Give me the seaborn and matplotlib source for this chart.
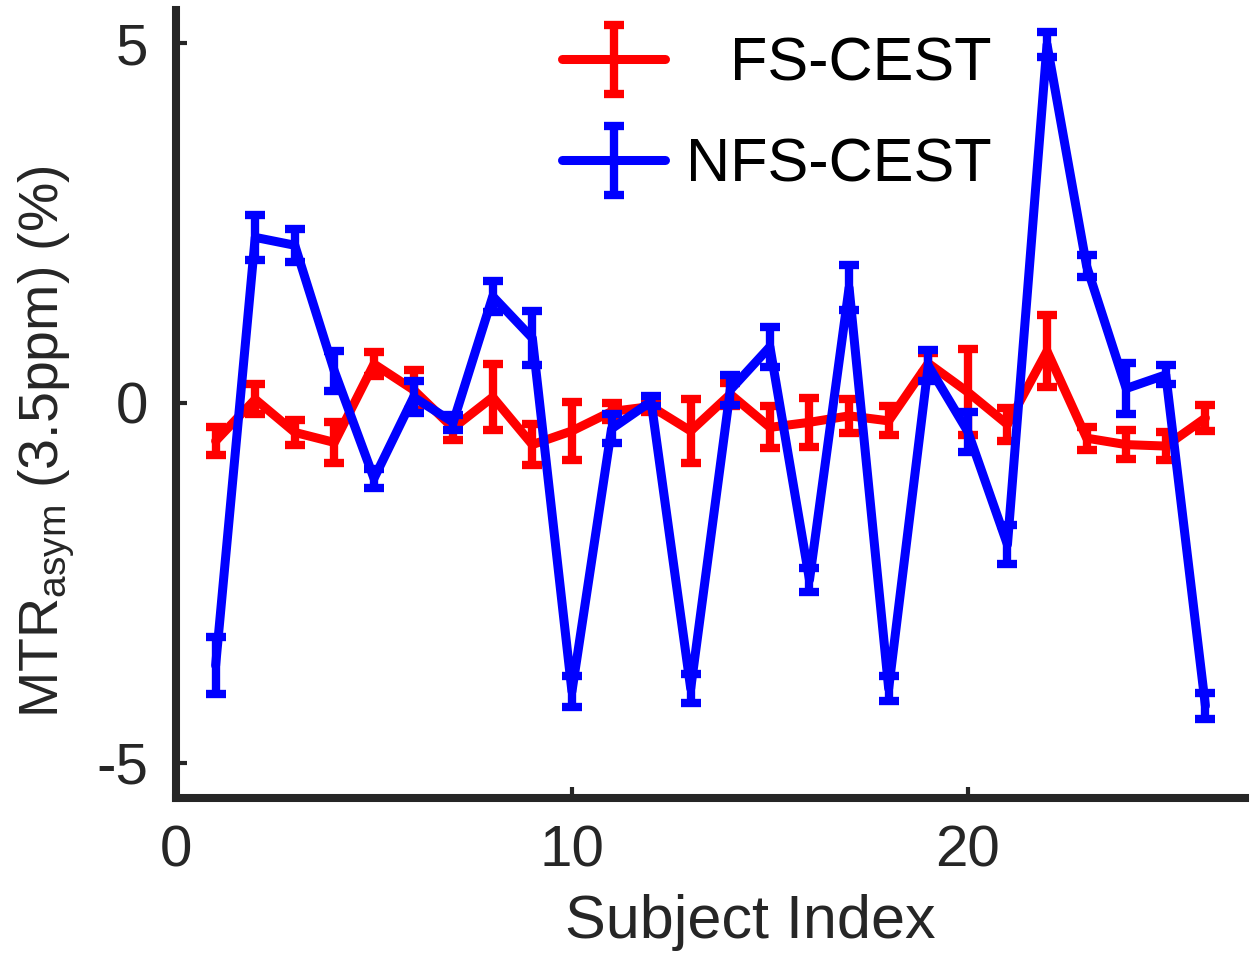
import numpy as np
import pandas as pd
import matplotlib
matplotlib.use("Agg")
import matplotlib.pyplot as plt
import seaborn as sns
from matplotlib.container import ErrorbarContainer
from matplotlib.legend_handler import HandlerErrorbar, HandlerTuple

# ---------------- data ----------------
subjects = list(range(1, 27))
fs_mean = [-0.53, 0.05, -0.41, -0.55, 0.54, 0.18, -0.35, 0.08, -0.58, -0.39,
           -0.12, -0.05, -0.39, 0.12, -0.34, -0.27, -0.18, -0.25, 0.55, 0.15,
           -0.30, 0.72, -0.49, -0.58, -0.60, -0.21]
fs_err = [0.20, 0.21, 0.17, 0.29, 0.17, 0.28, 0.16, 0.46, 0.28, 0.40,
          0.12, 0.08, 0.45, 0.16, 0.29, 0.34, 0.24, 0.20, 0.15, 0.60,
          0.23, 0.50, 0.16, 0.20, 0.20, 0.18]
nfs_mean = [-3.65, 2.30, 2.19, 0.44, -1.05, 0.08, -0.27, 1.48, 0.90, -4.01,
            -0.36, 0.02, -3.97, 0.18, 0.78, -2.46, 1.60, -3.97, 0.52, -0.40,
            -1.97, 4.98, 1.90, 0.20, 0.39, -4.21]
nfs_err = [0.40, 0.31, 0.23, 0.28, 0.13, 0.22, 0.10, 0.22, 0.37, 0.22,
           0.20, 0.07, 0.20, 0.21, 0.28, 0.17, 0.31, 0.17, 0.22, 0.28,
           0.27, 0.18, 0.15, 0.36, 0.13, 0.18]
series_labels = ["FS-CEST", "NFS-CEST"]
series_colors = ["#ff0000", "#0000ff"]
x_ticks = [0, 10, 20]
y_ticks = [-5, 0, 5]
x_label = "Subject Index"
y_label = r"MTR$_{\mathregular{asym}}$ (3.5ppm) (%)"

# ---------------- style ----------------
sns.set_theme(style="ticks")
plt.rcParams['font.family'] = ['Liberation Sans', 'DejaVu Sans']
plt.rcParams['mathtext.fontset'] = 'custom'
plt.rcParams['mathtext.rm'] = 'Liberation Sans'
plt.rcParams['mathtext.it'] = 'Liberation Sans:italic'
plt.rcParams['mathtext.bf'] = 'Liberation Sans:bold'

dark = "#262626"

df = pd.concat([
    pd.DataFrame({"Subject": subjects, "MTR": fs_mean, "err": fs_err, "Method": series_labels[0]}),
    pd.DataFrame({"Subject": subjects, "MTR": nfs_mean, "err": nfs_err, "Method": series_labels[1]}),
], ignore_index=True)

fig = plt.figure(figsize=(12.52, 9.67), dpi=100)
ax = fig.add_axes([0.1406, 0.1748, 0.8538, 0.8149])

handles = []
for lab, col in zip(series_labels, series_colors):
    sub = df[df["Method"] == lab]
    sns.lineplot(data=sub, x="Subject", y="MTR", color=col, linewidth=6.5,
                 ax=ax, legend=False, errorbar=None, sort=False)
    line = ax.lines[-1]
    ec = ax.errorbar(sub["Subject"], sub["MTR"], yerr=sub["err"], fmt="none",
                     ecolor=col, elinewidth=6, capsize=7, capthick=6)
    handles.append((line, ec))

ax.set_xlim(0, 27)
ax.set_ylim(-5.49, 5.46)
ax.set_xticks(x_ticks)
ax.set_yticks(y_ticks)
ax.set_xticklabels([str(t) for t in x_ticks])
ax.set_yticklabels([str(t) for t in y_ticks])

sns.despine(ax=ax)
for s in ["left", "bottom"]:
    ax.spines[s].set_linewidth(5.8)
    ax.spines[s].set_color(dark)

ax.tick_params(axis="both", direction="in", length=8, width=3, color=dark,
               labelsize=42, labelcolor=dark)
ax.tick_params(axis="y", pad=20)
ax.tick_params(axis="x", pad=19)

ax.set_xlabel(x_label, fontsize=44, color=dark)
ax.set_ylabel(y_label, fontsize=40, color=dark)
ax.xaxis.set_label_coords(0.537, -0.122)
ax.yaxis.set_label_coords(-0.0926, 0.452)

leg = ax.legend(handles, series_labels, loc="upper left",
                bbox_to_anchor=(0.361, 0.966), frameon=False, fontsize=44,
                handlelength=1.69, handletextpad=0.34, labelspacing=0.72,
                borderpad=0, borderaxespad=0,
                handler_map={tuple: HandlerTuple(ndivide=1),
                             ErrorbarContainer: HandlerErrorbar(yerr_size=0.56)})
for t in leg.get_texts():
    t.set_color("black")

# right-align legend texts
fig.canvas.draw()
r = fig.canvas.get_renderer()
widths = [t.get_window_extent(r).width for t in leg.get_texts()]
wmax = max(widths)
for t, w in zip(leg.get_texts(), widths):
    t.set_x(t.get_position()[0] + (wmax - w))

fig.savefig("out.png", dpi=100)
